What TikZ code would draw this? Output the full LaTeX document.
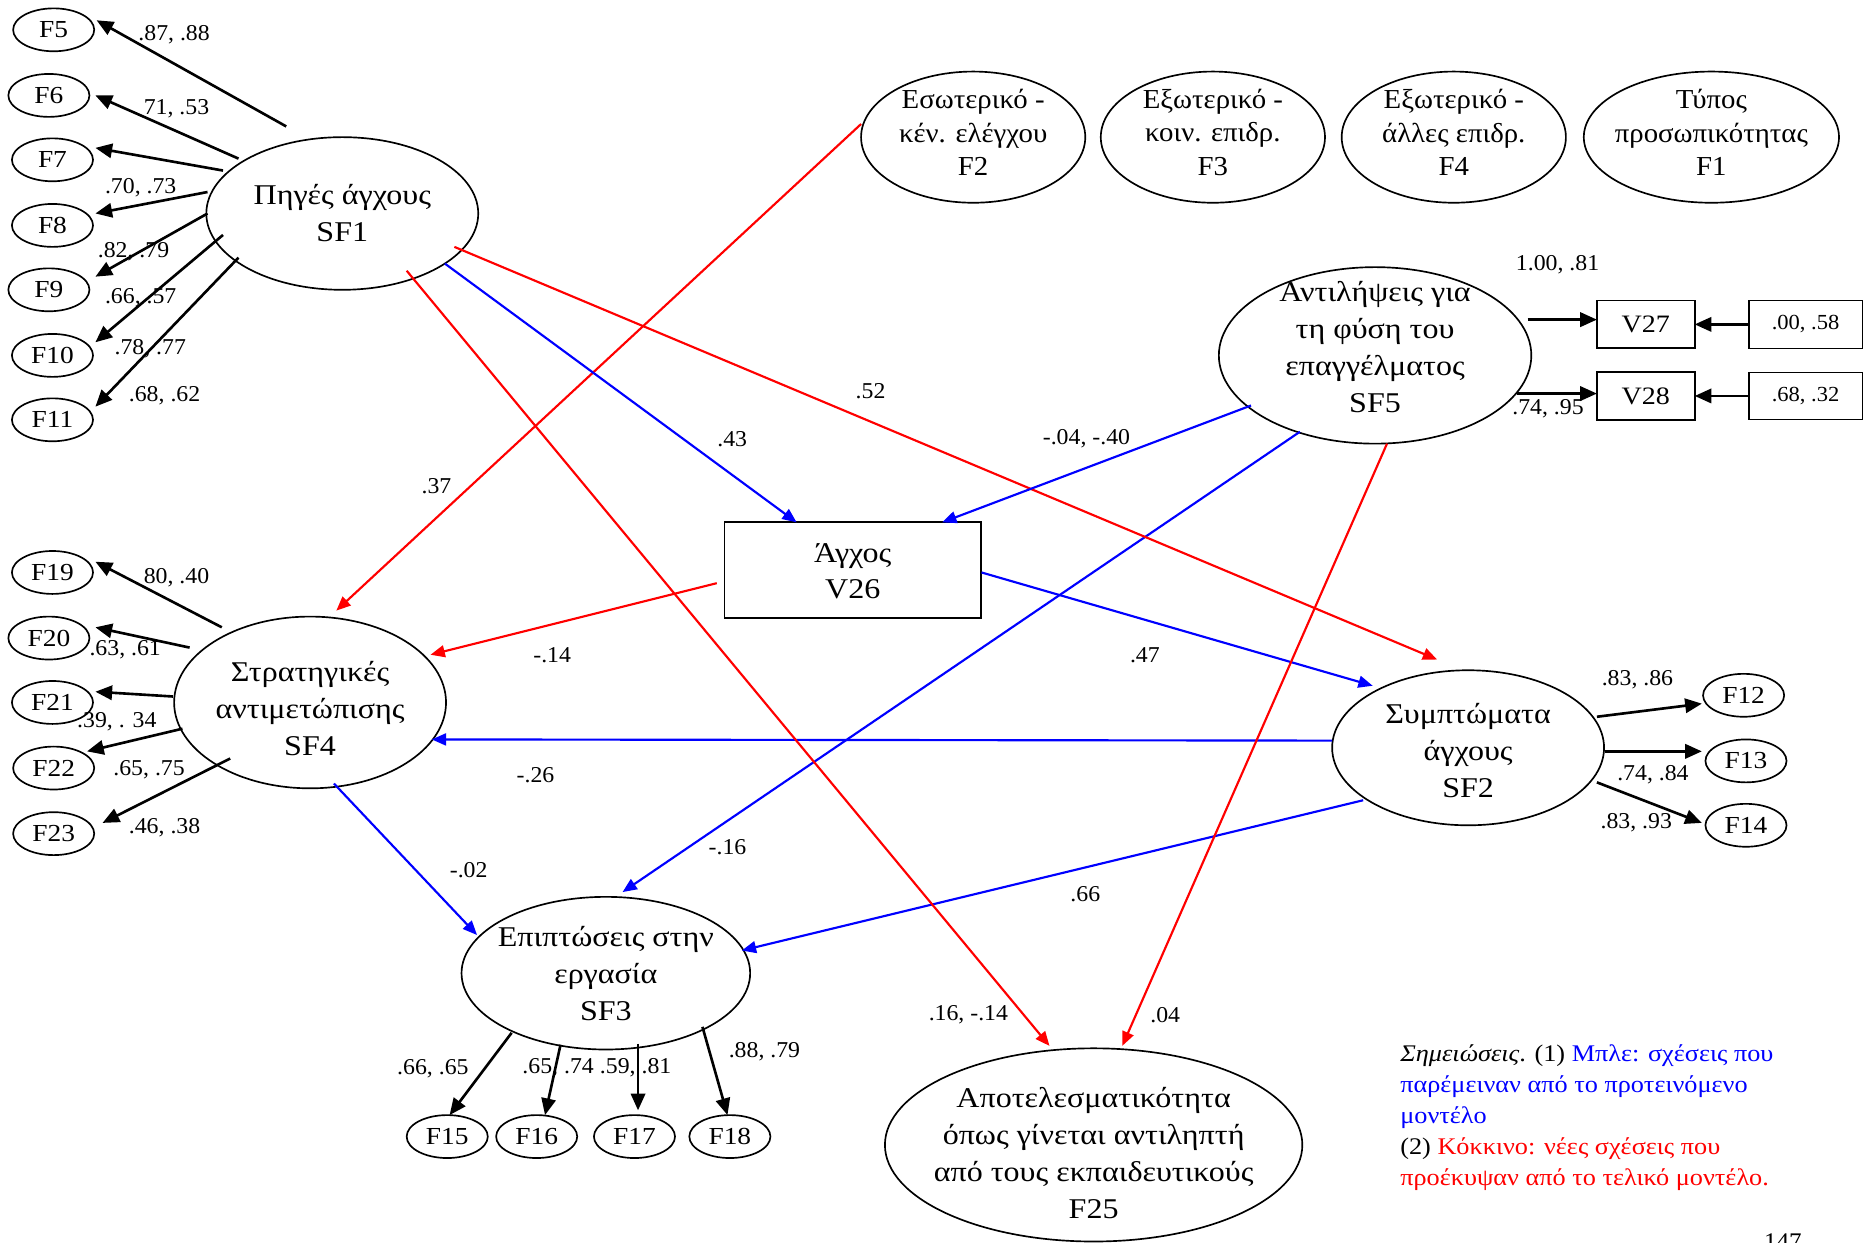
\documentclass[tikz,border=0pt]{standalone}
\usepackage{fontspec}
\setmainfont[FakeStretch=1.05]{Liberation Serif}
\newfontfamily\wfont[FakeStretch=1.12]{Liberation Serif}
\newfontfamily\nfont[FakeStretch=1.10]{Liberation Serif}
\usetikzlibrary{shapes.geometric,arrows.meta}
\tikzset{
  lat/.style={draw, ellipse, line width=1.4pt, inner sep=0pt, outer sep=0pt},
  obs/.style={draw, ellipse, line width=1.4pt, inner sep=0pt, outer sep=0pt, minimum width=68pt, minimum height=36pt, font=\wfont\fontsize{20.5}{20.5}\selectfont},
  vbox/.style={draw, rectangle, line width=1.6pt, inner sep=0pt, outer sep=0pt, font=\wfont\fontsize{21}{21}\selectfont},
  ebox/.style={draw, rectangle, line width=1pt, inner sep=0pt, outer sep=0pt, minimum width=95pt, minimum height=40pt, font=\fontsize{18}{18}\selectfont},
  big/.style={font=\wfont\fontsize{24}{31}\selectfont, align=center, inner sep=0pt},
  topt/.style={font=\fontsize{23}{28}\selectfont, align=center, inner sep=0pt},
  lbl/.style={font=\fontsize{19}{19}\selectfont, inner sep=0pt},
  ld/.style={line width=2.2pt, -{Triangle[length=14pt,width=12pt]}},
  rd/.style={red, line width=1.8pt, -{Triangle[length=12pt,width=10pt]}},
  bd/.style={blue, line width=1.8pt, -{Triangle[length=12pt,width=10pt]}}
}
\begin{document}
\begin{tikzpicture}[x=1pt,y=-1pt]
\fill[white] (0,0) rectangle (1568,1042);
\useasboundingbox (0,0) rectangle (1568,1042);

% latent nodes
\node[lat, minimum width=228pt, minimum height=128pt, label={[big]center:{Πηγές άγχους\\SF1}}] (SF1) at (287,179) {};
\node[lat, minimum width=228pt, minimum height=144pt, label={[big,yshift=-5pt]center:{Στρατηγικές\\αντιμετώπισης\\SF4}}] (SF4) at (260,589) {};
\node[lat, minimum width=242pt, minimum height=128pt, label={[big]center:{Επιπτώσεις στην\\εργασία\\SF3}}] (SF3) at (508,816) {};
\node[lat, minimum width=228pt, minimum height=130pt, label={[big,yshift=-2pt]center:{Συμπτώματα\\άγχους\\SF2}}] (SF2) at (1231,627) {};
\node[lat, minimum width=262pt, minimum height=148pt, label={[big,yshift=7pt]center:{Αντιλήψεις για\\τη φύση του\\επαγγέλματος\\SF5}}] (SF5) at (1153,298) {};
\node[lat, minimum width=350pt, minimum height=162pt, label={[big,yshift=-7pt]center:{Αποτελεσματικότητα\\όπως γίνεται αντιληπτή\\από τους εκπαιδευτικούς\\F25}}] (F25) at (917,960) {};
\node[vbox, minimum width=215pt, minimum height=81pt, label={[big,yshift=-1pt]center:{Άγχος\\V26}}] (V26) at (715,478) {};

% top ellipses
\node[lat, minimum width=188pt, minimum height=110pt, label={[topt,yshift=4pt]center:{Εσωτερικό -\\κέν. ελέγχου\\F2}}] (F2) at (816,115) {};
\node[lat, minimum width=188pt, minimum height=110pt, label={[topt,yshift=4pt]center:{Εξωτερικό -\\κοιν. επιδρ.\\F3}}] (F3) at (1017,115) {};
\node[lat, minimum width=188pt, minimum height=110pt, label={[topt,yshift=4pt]center:{Εξωτερικό -\\άλλες επιδρ.\\F4}}] (F4) at (1219,115) {};
\node[lat, minimum width=214pt, minimum height=110pt, label={[topt,yshift=4pt]center:{Τύπος\\προσωπικότητας\\F1}}] (F1) at (1435,115) {};

% observed boxes
\node[vbox, minimum width=82pt, minimum height=40pt] (V27) at (1380,272) {V27};
\node[vbox, minimum width=82pt, minimum height=40pt] (V28) at (1380,332) {V28};
\node[ebox] (E27) at (1514,272) {.00, .58};
\node[ebox] (E28) at (1514,332) {.68, .32};

% small ellipses
\node[obs] (F5) at (45,25) {F5};
\node[obs] (F6) at (41,80) {F6};
\node[obs] (F7) at (44,134) {F7};
\node[obs] (F8) at (44,189) {F8};
\node[obs] (F9) at (41,243) {F9};
\node[obs] (F10) at (44,298) {F10};
\node[obs] (F11) at (44,352) {F11};
\node[obs] (F19) at (44,480) {F19};
\node[obs] (F20) at (41,535) {F20};
\node[obs] (F21) at (44,589) {F21};
\node[obs] (F22) at (45,644) {F22};
\node[obs] (F23) at (45,699) {F23};
\node[obs] (F15) at (375,953) {F15};
\node[obs] (F16) at (450,953) {F16};
\node[obs] (F17) at (532,953) {F17};
\node[obs] (F18) at (612,953) {F18};
\node[obs] (F12) at (1462,583) {F12};
\node[obs] (F13) at (1464,638) {F13};
\node[obs] (F14) at (1464,692) {F14};

% SF1 loadings
\draw[ld] ([shift={(-47,-73)}]SF1.center) -- ([shift={(36,-8)}]F5.center);
\draw[ld] ([shift={(-87,-46)}]SF1.center) -- ([shift={(39,0)}]F6.center);
\draw[ld] ([shift={(-100,-36)}]SF1.center) -- ([shift={(36,-10)}]F7.center);
\draw[ld] ([shift={(-113,-18)}]SF1.center) -- ([shift={(36,-10)}]F8.center);
\draw[ld] ([shift={(-113,0)}]SF1.center) -- ([shift={(39,-11)}]F9.center);
\draw[ld] ([shift={(-100,18)}]SF1.center) -- ([shift={(36,-11)}]F10.center);
\draw[ld] ([shift={(-87,37)}]SF1.center) -- ([shift={(36,-11)}]F11.center);
% SF4 loadings
\draw[ld] ([shift={(-74,-63)}]SF4.center) -- ([shift={(36,-9)}]F19.center);
\draw[ld] ([shift={(-101,-46)}]SF4.center) -- ([shift={(39,-9)}]F20.center);
\draw[ld] ([shift={(-115,-5)}]SF4.center) -- ([shift={(36,-9)}]F21.center);
\draw[ld] ([shift={(-107,22)}]SF4.center) -- ([shift={(28,-14)}]F22.center);
\draw[ld] ([shift={(-67,47)}]SF4.center) -- ([shift={(41,-9)}]F23.center);
% SF3 loadings
\draw[ld] ([shift={(-79,50)}]SF3.center) -- ([shift={(2,-18)}]F15.center);
\draw[ld] ([shift={(-38,60)}]SF3.center) -- ([shift={(7,-18)}]F16.center);
\draw[ld] ([shift={(27,59)}]SF3.center) -- ([shift={(3,-22)}]F17.center);
\draw[ld] ([shift={(81,45)}]SF3.center) -- ([shift={(-2,-18)}]F18.center);
% SF2 loadings
\draw[ld] ([shift={(108,-26)}]SF2.center) -- ([shift={(-35,7)}]F12.center);
\draw[ld] ([shift={(115,3)}]SF2.center) -- ([shift={(-37,-8)}]F13.center);
\draw[ld] ([shift={(108,29)}]SF2.center) -- ([shift={(-37,-2)}]F14.center);
% SF5 loadings
\draw[ld] ([shift={(128,-30)}]SF5.center) -- ([shift={(-41,-4)}]V27.center);
\draw[ld] ([shift={(119,32)}]SF5.center) -- ([shift={(-41,-2)}]V28.center);
\draw[ld] (E27.west) -- (V27.east);
\draw[ld] (E28.west) -- (V28.east);

% structural paths
\draw[rd] ([shift={(-94,-11)}]F2.center) -- ([shift={(22,-77)}]SF4.center);
\draw[rd] ([shift={(-114,11)}]V26.center) -- ([shift={(101,-40)}]SF4.center);
\draw[bd] ([shift={(-114,-6)}]SF2.center) -- ([shift={(102,31)}]SF4.center);
\draw[bd] ([shift={(20,68)}]SF4.center) -- ([shift={(-108,-32)}]SF3.center);
\draw[bd] ([shift={(-88,44)}]SF2.center) -- ([shift={(114,-19)}]SF3.center);
\draw[bd] ([shift={(-63,64)}]SF5.center) -- ([shift={(14,-68)}]SF3.center);
\draw[bd] ([shift={(86,42)}]SF1.center) -- ([shift={(-47,-40)}]V26.center);
\draw[rd] ([shift={(94,28)}]SF1.center) -- ([shift={(-26,-74)}]SF2.center);
\draw[rd] ([shift={(54,48)}]SF1.center) -- ([shift={(-37,-83)}]F25.center);
\draw[bd] ([shift={(-104,42)}]SF5.center) -- ([shift={(75,-40)}]V26.center);
\draw[bd] ([shift={(108,2)}]V26.center) -- ([shift={(-80,-52)}]SF2.center);
\draw[rd] ([shift={(10,74)}]SF5.center) -- ([shift={(24,-83)}]F25.center);

% loading labels
\node[lbl] (l1) at (146,29) {.87, .88};
\node[lbl] (l2) at (148,91) {71, .53};
\node[lbl] (l3) at (118,157) {.70, .73};
\node[lbl] (l4) at (112,211) {.82, .79};
\node[lbl] (l5) at (118,250) {.66, .57};
\node[lbl] (l6) at (126,292) {.78, .77};
\node[lbl] (l7) at (138,332) {.68, .62};
\node[lbl] (l8) at (148,484) {80, .40};
\node[lbl] (l9) at (105,545) {.63, .61};
\node[lbl] (l10) at (98,605) {.39, . 34};
\node[lbl] (l11) at (125,645) {.65, .75};
\node[lbl] (l12) at (138,694) {.46, .38};
\node[lbl] (l13) at (363,896) {.66, .65};
\node[lbl] (l14) at (468,895) {.65, .74};
\node[lbl] (l15) at (533,895) {.59, .81};
\node[lbl] (l16) at (641,882) {.88, .79};
\node[lbl] (l17) at (1373,570) {.83, .86};
\node[lbl] (l18) at (1386,650) {.74, .84};
\node[lbl] (l19) at (1372,690) {.83, .93};
\node[lbl] (l20) at (1306,222) {1.00, .81};
\node[lbl] (l21) at (1298,343) {.74, .95};
% path labels
\node[lbl] (p1) at (366,408) {.37};
\node[lbl] (p2) at (614,368) {.43};
\node[lbl] (p3) at (730,328) {.52};
\node[lbl] (p4) at (911,368) {-.04, -.40};
\node[lbl] (p5) at (463,549) {-.14};
\node[lbl] (p6) at (960,549) {.47};
\node[lbl] (p7) at (449,650) {-.26};
\node[lbl] (p8) at (393,730) {-.02};
\node[lbl] (p9) at (610,710) {-.16};
\node[lbl] (p10) at (910,750) {.66};
\node[lbl] (p11) at (812,851) {.16, -.14};
\node[lbl] (p12) at (977,851) {.04};

% notes
\node[font=\nfont\fontsize{20}{26}\selectfont, align=left, anchor=north west, inner sep=0pt] (notes) at (1174,876)
 {\textit{Σημειώσεις}. (1) \textcolor{blue}{Μπλε: σχέσεις που}\\
  \textcolor{blue}{παρέμειναν από το προτεινόμενο}\\
  \textcolor{blue}{μοντέλο}\\
  (2) \textcolor{red}{Κόκκινο: νέες σχέσεις που}\\
  \textcolor{red}{προέκυψαν από το τελικό μοντέλο.}};
\node[font=\fontsize{20}{20}\selectfont, anchor=base, inner sep=0pt] (pg) at (1495,1048) {147};
\end{tikzpicture}
\end{document}
